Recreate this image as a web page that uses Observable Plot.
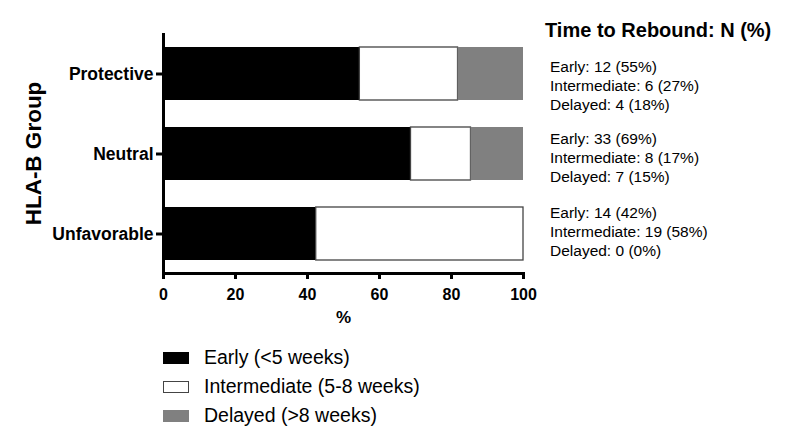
<!DOCTYPE html>
<html>
<head>
<meta charset="utf-8">
<script src="https://cdn.jsdelivr.net/npm/d3@7"></script>
<script src="https://cdn.jsdelivr.net/npm/@observablehq/plot@0.6"></script>
<style>
  body { margin: 0; background: #fff; }
  #wrap { position: relative; width: 789px; height: 444px; font-family: "Liberation Sans", Arial, sans-serif; color: #000; }
  #chart { position: absolute; left: 0; top: 0; }
  #panel-title { position: absolute; left: 545px; top: 20px; font-size: 20px; line-height: 20px; font-weight: bold; white-space: nowrap; }
  .ann { position: absolute; left: 550px; font-size: 15.5px; line-height: 19px; white-space: nowrap; }
  #legend { position: absolute; left: 163px; top: 343px; }
  .lrow { display: flex; align-items: center; height: 29px; font-size: 19.5px; white-space: nowrap; }
  .sw { width: 26px; height: 12px; box-sizing: border-box; margin-right: 15px; }
</style>
</head>
<body>
<div id="wrap">
  <div id="chart"></div>
  <div id="panel-title"></div>
  <div id="annotations"></div>
  <div id="legend"></div>
</div>
<script>
const groups = ["Protective", "Neutral", "Unfavorable"];
const categories = ["Early", "Intermediate", "Delayed"];
const categoryLabels = ["Early (<5 weeks)", "Intermediate (5-8 weeks)", "Delayed (>8 weeks)"];
const earlyN = [12, 33, 14];
const intermediateN = [6, 8, 19];
const delayedN = [4, 7, 0];
const colors = ["#000000", "#ffffff", "#808080"];
const xTicks = [0, 20, 40, 60, 80, 100];
const xTitle = "%";
const yTitle = "HLA-B Group";
const panelTitle = "Time to Rebound: N (%)";
const annTops = [57, 128.5, 202.5];

const counts = [earlyN, intermediateN, delayedN];
const rows = [];
groups.forEach((g, gi) => {
  const total = counts.reduce((s, arr) => s + arr[gi], 0);
  categories.forEach((c, ci) => {
    rows.push({group: g, cat: c, n: counts[ci][gi], pct: counts[ci][gi] / total * 100});
  });
});

const chart = Plot.plot({
  width: 789,
  height: 335,
  marginLeft: 163,
  marginRight: 266,
  marginTop: 33,
  marginBottom: 62,
  style: {fontFamily: "'Liberation Sans', Arial, sans-serif", color: "#000", background: "#fff"},
  x: {domain: [0, 100]},
  y: {domain: groups, paddingInner: 0.34, paddingOuter: 0.17},
  color: {domain: categories, range: colors},
  marks: [
    Plot.barX(rows, Plot.stackX({
      y: "group", x: "pct", fill: "cat", order: categories,
      stroke: {value: d => d.cat === "Intermediate" ? "#444" : "none", scale: null},
      strokeWidth: 1.3
    })),
    Plot.ruleX([0], {strokeWidth: 3}),
    Plot.frame({anchor: "bottom", strokeWidth: 3}),
    Plot.axisX({ticks: xTicks, tickSize: 6, tickPadding: 9, strokeWidth: 3, fontSize: 16, fontWeight: "bold", label: null}),
    Plot.axisY({tickSize: 7, tickPadding: 3, strokeWidth: 3, fontSize: 17.5, fontWeight: "bold", label: null}),
    Plot.text([xTitle], {frameAnchor: "bottom", dy: 44, lineAnchor: "middle", fontSize: 17, fontWeight: "bold"}),
    Plot.text([yTitle], {frameAnchor: "left", dx: -130, rotate: -90, textAnchor: "middle", lineAnchor: "middle", fontSize: 22.5, fontWeight: "bold"})
  ]
});
document.getElementById("chart").appendChild(chart);

document.getElementById("panel-title").textContent = panelTitle;
const annDiv = document.getElementById("annotations");
groups.forEach((g, gi) => {
  const total = counts.reduce((s, arr) => s + arr[gi], 0);
  const block = document.createElement("div");
  block.className = "ann";
  block.style.top = annTops[gi] + "px";
  block.innerHTML = categories.map((c, ci) =>
    `${c}: ${counts[ci][gi]} (${Math.round(counts[ci][gi] / total * 100)}%)`).join("<br>");
  annDiv.appendChild(block);
});

const legend = document.getElementById("legend");
categories.forEach((c, ci) => {
  const row = document.createElement("div");
  row.className = "lrow";
  const sw = document.createElement("div");
  sw.className = "sw";
  sw.style.background = colors[ci];
  if (c === "Intermediate") sw.style.border = "1.5px solid #444";
  const t = document.createElement("span");
  t.textContent = categoryLabels[ci];
  row.appendChild(sw);
  row.appendChild(t);
  legend.appendChild(row);
});
</script>
</body>
</html>
